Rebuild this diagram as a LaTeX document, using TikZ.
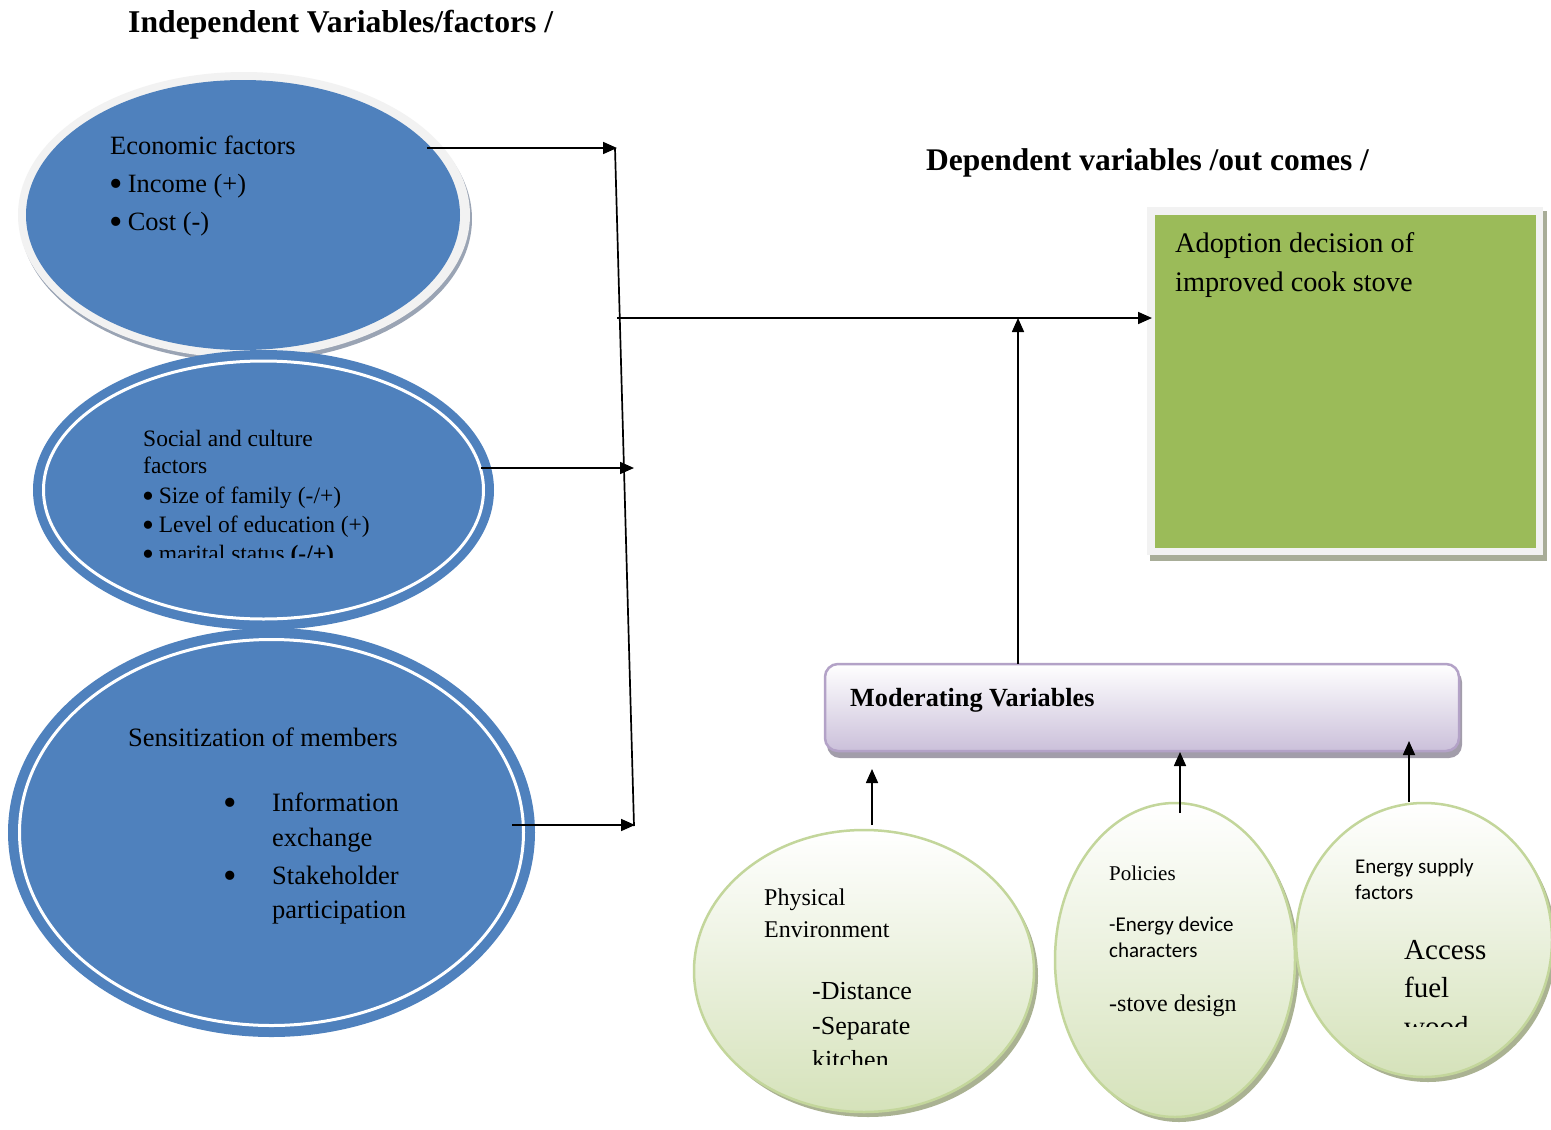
\documentclass[tikz,border=0pt]{standalone}
\usepackage{fontspec}
\setmainfont{Liberation Serif}
\newfontfamily\calibfont{Carlito}
\usetikzlibrary{arrows.meta}
\definecolor{blueF}{HTML}{4F81BD}
\definecolor{ringGray}{HTML}{F2F2F2}
\definecolor{ecoShadow}{HTML}{9AA4B4}
\definecolor{greenF}{HTML}{9BBB59}
\definecolor{boxShadow}{HTML}{A8AD98}
\definecolor{modBorder}{HTML}{B3A2C7}
\definecolor{modBottom}{HTML}{CBC0DA}
\definecolor{modShadow}{HTML}{A29DAA}
\definecolor{ovBorder}{HTML}{C3D69B}
\definecolor{ovBottom}{HTML}{D5E2BA}
\definecolor{ovShadow}{HTML}{AAB292}
\newcommand\bigbul{\raisebox{-0.17em}[0.5em][0pt]{\fontsize{1.45em}{1em}\selectfont •}}
\begin{document}
\begin{tikzpicture}[x=1pt,y=-1pt,
  conn/.style={line width=1.7pt, draw=black},
  arr/.style={conn, -{Triangle[length=14pt,width=12pt]}},
  txt/.style={inner sep=0pt, anchor=base west, text=black},
  fs/.style={font=\fontsize{#1}{#1}\selectfont},
  fb/.style={font=\fontsize{#1}{#1}\selectfont\bfseries},
  fc/.style={font=\fontsize{#1}{#1}\selectfont\calibfont},
  oval/.style={top color=white, bottom color=ovBottom, draw=ovBorder, line width=2.5pt},
  ovalshadow/.style={fill=ovShadow}
]
\useasboundingbox (0,0) rectangle (1551,1130);
\fill[white] (0,0) rectangle (1551,1130);

% ---------- titles ----------
\node[txt, fb=31.7] (tind) at (128,32) {Independent Variables/factors /};
\node[txt, fb=31.5] (tdep) at (926,170) {Dependent variables /out comes /};

% ---------- economic factors ellipse ----------
\fill[ecoShadow] (246,219) ellipse[x radius=226pt, y radius=143pt];
\fill[ringGray] (244,215) ellipse[x radius=226pt, y radius=143pt];
\fill[blueF] (243,215) ellipse[x radius=217pt, y radius=135pt];
\node[txt, fs=26.4] (eco1) at (110,154) {Economic factors};
\node[txt, fs=26.4] (eco2) at (109,192) {\bigbul\hspace{0.2em}Income (+)};
\node[txt, fs=26.4] (eco3) at (109,230) {\bigbul\hspace{0.2em}Cost (-)};

% ---------- social and culture ellipse ----------
\fill[blueF] (263.5,490) ellipse[x radius=230.5pt, y radius=140pt];
\draw[white, line width=3pt] (263.5,490) ellipse[x radius=220pt, y radius=129pt];
\node[txt, fs=23.5] (soc1) at (143,446) {Social and culture};
\node[txt, fs=23.5] (soc2) at (143,473) {factors};
\node[txt, fs=23.5] (soc3) at (142,503) {\bigbul\hspace{0.2em}Size of family (-/+)};
\node[txt, fs=23.5] (soc4) at (142,532) {\bigbul\hspace{0.2em}Level of education (+)};
\begin{scope}
  \clip (120,537) rectangle (480,557);
  \node[txt, fs=23.5] (soc5) at (142,561) {\bigbul\hspace{0.2em}marital status \textbf{(-/+)}};
\end{scope}

% ---------- sensitization ellipse ----------
\fill[blueF] (271.5,832.5) ellipse[x radius=263.5pt, y radius=204.5pt];
\draw[white, line width=3pt] (271.5,832.5) ellipse[x radius=252pt, y radius=193pt];
\node[txt, fs=26.5] (sen1) at (128,746) {Sensitization of members};
\node[txt, fs=26.5] (senb1) at (223,811) {\bigbul};
\node[txt, fs=26.5] (sen2) at (272,811) {Information};
\node[txt, fs=26.5] (sen3) at (272,846) {exchange};
\node[txt, fs=26.5] (senb2) at (223,884) {\bigbul};
\node[txt, fs=26.5] (sen4) at (272,884) {Stakeholder};
\node[txt, fs=26.5] (sen5) at (272,918) {participation};

% ---------- outcome box ----------
\fill[boxShadow] (1150,211) rectangle (1547,561);
\fill[ringGray] (1147,207) rectangle (1543,555);
\fill[greenF] (1155,215) rectangle (1536,548);
\node[txt, fs=28.3] (out1) at (1175,252) {Adoption decision of};
\node[txt, fs=28.3] (out2) at (1175,291) {improved cook stove};

% ---------- moderating box ----------
\fill[modShadow, rounded corners=13pt] (827,669) rectangle (1462,758);
\shadedraw[top color=white, bottom color=modBottom, draw=modBorder, line width=2.5pt, rounded corners=13pt] (825,664) rectangle (1459,751);
\node[txt, fb=26.2] (modt) at (850,706) {Moderating Variables};

% ---------- moderator ovals ----------
\fill[ovalshadow] (868,976) ellipse[x radius=170pt, y radius=141pt];
\shadedraw[oval] (864,971) ellipse[x radius=170pt, y radius=141pt];
\node[txt, fs=24] (phy1) at (764,905) {Physical};
\node[txt, fs=24] (phy2) at (764,937) {Environment};
\node[txt, fs=26] (phy3) at (812,999) {-Distance};
\node[txt, fs=26] (phy4) at (812,1034) {-Separate};
\begin{scope}
  \clip (790,1042) rectangle (960,1064);
  \node[txt, fs=26] (phy5) at (812,1068) {kitchen};
\end{scope}

\fill[ovalshadow] (1179,965) ellipse[x radius=120pt, y radius=157pt];
\shadedraw[oval] (1175,960) ellipse[x radius=120pt, y radius=157pt];
\node[txt, fs=21] (pol1) at (1109,880) {Policies};
\node[txt, fc=21] (pol2) at (1109,931) {-Energy device};
\node[txt, fc=21] (pol3) at (1109,957) {characters};
\node[txt, fs=24] (pol4) at (1109,1011) {-stove design};

\fill[ovalshadow] (1428,945) ellipse[x radius=128pt, y radius=137pt];
\shadedraw[oval] (1424,940) ellipse[x radius=128pt, y radius=137pt];
\node[txt, fc=21] (ene1) at (1355,873) {Energy supply};
\node[txt, fc=21] (ene2) at (1355,899) {factors};
\node[txt, fs=29] (ene3) at (1404,959) {Access};
\node[txt, fs=29] (ene4) at (1404,997) {fuel};
\begin{scope}
  \clip (1390,1008) rectangle (1530,1026);
  \node[txt, fs=29] (ene5) at (1404,1036) {wood};
\end{scope}

% ---------- connectors ----------
\coordinate (e1) at (427,148);
\coordinate (j1) at (617,148);
\coordinate (e2) at (481,468);
\coordinate (j2) at (634,468);
\coordinate (e3) at (512,825);
\coordinate (j3) at (635,825);
\coordinate (vtop) at (615,148);
\coordinate (vbot) at (634,826);
\coordinate (hstart) at (617,318);
\coordinate (hend) at (1152,318);
\coordinate (mtop) at (1018,664);
\coordinate (mjoin) at (1018,318);

\draw[arr] (e1) -- (j1);
\draw[arr] (e2) -- (j2);
\draw[arr] (e3) -- (j3);
\draw[conn] (vtop) -- (vbot);
\draw[arr] (hstart) -- (hend);
\draw[arr] (mtop) -- (mjoin);

\coordinate (p1a) at (872,825);
\coordinate (p1b) at (872,769);
\coordinate (p2a) at (1180,813);
\coordinate (p2b) at (1180,752);
\coordinate (p3a) at (1409,802);
\coordinate (p3b) at (1409,741);
\draw[arr] (p1a) -- (p1b);
\draw[arr] (p2a) -- (p2b);
\draw[arr] (p3a) -- (p3b);
\end{tikzpicture}
\end{document}
